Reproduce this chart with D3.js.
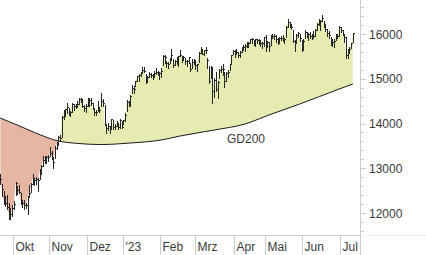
<!DOCTYPE html>
<html>
<head>
<meta charset="utf-8">
<script src="https://cdn.jsdelivr.net/npm/d3@7"></script>
<style>
  html, body { margin: 0; padding: 0; background: #fff; }
  svg { display: block; font-family: "Liberation Sans", Arial, sans-serif; }
</style>
</head>
<body>
<svg id="chart"></svg>
<script>
// daily closes, Sep 21 2022 .. Jul 12 2023 (one row per month)
const closes = [
  12767, 12531, 12284, 12228, 12139, 11975, 11976, 12114,
  12209, 12670, 12517, 12471, 12273, 12220, 12180, 12172, 12355, 12438, 12649, 12765, 12741, 12767, 12731, 12931, 13053, 13195, 13211, 13243, 13253,
  13339, 13256, 13130, 13459, 13533, 13688, 13666, 14146, 14224, 14313, 14378, 14234, 14266, 14431, 14380, 14422, 14428, 14539, 14541, 14383, 14355, 14397,
  14490, 14529, 14448, 14343, 14261, 14264, 14370, 14306, 14497, 14460, 13987, 13893, 13943, 13885, 14098, 13914, 13941, 13995, 13926, 14071, 13924,
  14069, 14181, 14490, 14436, 14610, 14792, 14775, 14948, 15058, 15086, 15134, 15187, 15181, 14920, 15033, 15103, 15093, 15081, 15132, 15150, 15126, 15128,
  15180, 15509, 15476, 15345, 15320, 15412, 15523, 15307, 15397, 15380, 15506, 15534, 15482, 15477, 15398, 15400, 15476, 15210, 15381, 15365,
  15305, 15327, 15578, 15654, 15559, 15632, 15633, 15428, 14959, 15233, 14735, 14967, 14768, 14933, 15195, 15216, 15210, 14957, 15128, 15142, 15329, 15522, 15629,
  15581, 15603, 15520, 15597, 15655, 15703, 15729, 15808, 15790, 15882, 15896, 15796, 15882, 15864, 15872, 15795, 15800, 15922,
  15727, 15815, 15734, 15961, 15952, 15955, 15897, 15834, 15914, 15917, 15897, 15898, 16164, 16275, 16223, 16152, 15842, 15794, 15983, 16014, 15908, 15664,
  15853, 16051, 15964, 15993, 15960, 15989, 15950, 16098, 16230, 16311, 16290, 16358, 16202, 16111, 16023, 15988, 15830, 15813, 15846, 15949, 15946, 16148,
  16081, 15989, 15938, 15529, 15603, 15673, 15790, 16023,
];

const highs = [
  12880, 12650, 12500, 12370, 12400, 12220, 12110, 12180,
  12260, 12690, 12600, 12620, 12450, 12300, 12280, 12230, 12390, 12620, 12680, 12870, 12790, 12810, 12790, 12990, 13080, 13280, 13270, 13270, 13300,
  13480, 13380, 13230, 13490, 13580, 13710, 13740, 14160, 14300, 14330, 14450, 14350, 14290, 14460, 14430, 14440, 14500, 14560, 14560, 14540, 14420, 14440,
  14580, 14560, 14560, 14460, 14330, 14300, 14500, 14370, 14675, 14540, 14420, 14000, 14010, 13950, 14110, 14080, 13990, 14050, 14020, 14090, 14050,
  14080, 14230, 14520, 14500, 14630, 14860, 14830, 14960, 15070, 15100, 15150, 15270, 15270, 15100, 15060, 15140, 15130, 15110, 15170, 15230, 15180, 15160,
  15240, 15530, 15540, 15390, 15370, 15470, 15660, 15440, 15410, 15480, 15510, 15650, 15500, 15510, 15470, 15420, 15490, 15350, 15440, 15450,
  15420, 15340, 15590, 15700, 15670, 15650, 15700, 15470, 15290, 15290, 15260, 15010, 15150, 14950, 15210, 15280, 15330, 15150, 15150, 15200, 15340, 15530, 15650,
  15640, 15660, 15600, 15630, 15700, 15760, 15780, 15830, 15830, 15890, 15900, 15870, 15890, 15890, 15880, 15840, 15830, 15930,
  15980, 15850, 15830, 15980, 15990, 15990, 15970, 15920, 15940, 15960, 15980, 15920, 16170, 16330, 16270, 16230, 16090, 15860, 16000, 16040, 16000, 15870,
  15890, 16080, 16040, 16020, 16050, 16000, 16070, 16110, 16250, 16330, 16320, 16430, 16280, 16230, 16120, 16060, 15940, 15880, 15880, 16010, 16000, 16170,
  16160, 16080, 15990, 15940, 15660, 15700, 15800, 16030,
];

const lows = [
  12640, 12370, 12200, 12160, 12100, 11862, 11870, 11930,
  12080, 12400, 12430, 12440, 12200, 12140, 12090, 12110, 11980, 12380, 12480, 12650, 12620, 12640, 12500, 12760, 12870, 13050, 13120, 13120, 13160,
  13270, 13200, 13000, 13240, 13420, 13520, 13600, 13700, 14100, 14160, 14230, 14190, 14160, 14250, 14300, 14340, 14360, 14440, 14470, 14370, 14290, 14260,
  14390, 14400, 14410, 14330, 14200, 14180, 14290, 14260, 14400, 14400, 13960, 13790, 13850, 13790, 13910, 13880, 13880, 13940, 13870, 13910, 13900,
  13990, 14060, 14280, 14380, 14380, 14680, 14680, 14840, 14950, 14950, 15060, 15120, 15140, 14900, 14930, 15030, 15030, 15000, 15030, 15110, 15080, 15000,
  15040, 15300, 15350, 15260, 15230, 15360, 15450, 15270, 15300, 15320, 15280, 15500, 15380, 15420, 15320, 15280, 15350, 15180, 15250, 15330,
  15220, 15170, 15380, 15580, 15550, 15520, 15580, 15230, 14900, 15010, 14460, 14600, 14720, 14580, 15020, 15150, 15080, 14810, 14960, 15040, 15200, 15350, 15550,
  15480, 15560, 15480, 15480, 15590, 15640, 15630, 15700, 15720, 15790, 15790, 15750, 15730, 15810, 15780, 15740, 15690, 15740,
  15630, 15700, 15630, 15750, 15900, 15880, 15820, 15780, 15810, 15860, 15840, 15800, 15930, 16160, 16160, 16120, 15820, 15630, 15810, 15930, 15850, 15630,
  15640, 15900, 15940, 15860, 15900, 15880, 15920, 15950, 16090, 16200, 16080, 16300, 16160, 16070, 15960, 15920, 15760, 15740, 15720, 15870, 15900, 15950,
  16040, 15980, 15830, 15460, 15460, 15580, 15680, 15830,
];

// GD200 at a few trading-day positions
const maDays = [0, 10, 20, 34, 45, 59, 76, 94, 105, 125, 143, 157, 175, 198, 206];
const maValues = [14123, 13966, 13800, 13609, 13555, 13530, 13564, 13631, 13720, 13854, 13989, 14190, 14436, 14771, 14883];

const monthLabels = ["Okt", "Nov", "Dez", "'23", "Feb", "Mrz", "Apr", "Mai", "Jun", "Jul"];
const monthStarts = [8, 29, 51, 72, 94, 114, 137, 155, 177, 199];

const yTicks = [12000, 13000, 14000, 15000, 16000];

const size = { width: 426, height: 255 };
const plot = { right: 360, bottom: 235 };

const color = {
  above: "#e6ebb1",
  below: "#e7b6a3",
  bar: "#262626",
  axis: "#cccccc",
  text: "#3a3a3a",
};

const svg = d3.select("#chart").attr("width", size.width).attr("height", size.height);

const x = d3.scaleLinear().domain([0, closes.length - 1]).range([0.2, 0.2 + (closes.length - 1) * 1.712]);
const y = d3.scaleLinear().domain([12000, 16000]).range([213, 34]);

const days = d3.range(closes.length);
const ma = maDays.map((d, i) => ({ d, v: maValues[i] }));

// clip regions around the close line
const defs = svg.append("defs");
defs.append("clipPath").attr("id", "belowClose")
  .append("path")
  .attr("d", d3.area().x((d) => x(d)).y0(plot.bottom).y1((d) => y(closes[d]))(days));
defs.append("clipPath").attr("id", "aboveClose")
  .append("path")
  .attr("d", d3.area().x((d) => x(d)).y0(0).y1((d) => y(closes[d]))(days));

const maArea = (edge) =>
  d3.area().curve(d3.curveMonotoneX).x((d) => x(d.d)).y0(edge).y1((d) => y(d.v));

svg.append("path")
  .attr("d", maArea(0)(ma))
  .attr("fill", color.above)
  .attr("clip-path", "url(#belowClose)");

svg.append("path")
  .attr("d", maArea(plot.bottom)(ma))
  .attr("fill", color.below)
  .attr("clip-path", "url(#aboveClose)");

// GD200 line
svg.append("path")
  .attr("d", d3.line().curve(d3.curveMonotoneX).x((d) => x(d.d)).y((d) => y(d.v))(ma))
  .attr("fill", "none")
  .attr("stroke", "#1a1a1a")
  .attr("stroke-width", 1);

svg.append("text")
  .text("GD200")
  .attr("x", 227)
  .attr("y", 142.5)
  .attr("fill", color.text)
  .style("font-size", "12px");

// bars
const bars = svg.append("g").attr("stroke", color.bar).attr("shape-rendering", "crispEdges");
days.forEach((d) => {
  const px = Math.round(x(d)) + 0.5;
  bars.append("line")
    .attr("x1", px).attr("x2", px)
    .attr("y1", y(highs[d])).attr("y2", y(lows[d]) + 1);
  bars.append("line")
    .attr("x1", px).attr("x2", px + 1.5)
    .attr("y1", Math.round(y(closes[d])) + 0.5).attr("y2", Math.round(y(closes[d])) + 0.5);
});

// axes
const axes = svg.append("g").attr("stroke", color.axis).attr("shape-rendering", "crispEdges");
axes.append("line").attr("x1", 0).attr("x2", plot.right).attr("y1", plot.bottom + 0.5).attr("y2", plot.bottom + 0.5);
axes.append("line").attr("x1", plot.right).attr("x2", size.width).attr("y1", plot.bottom + 0.5).attr("y2", plot.bottom + 0.5).attr("stroke", "#f0f0f0");
axes.append("line").attr("x1", plot.right + 0.5).attr("x2", plot.right + 0.5).attr("y1", 0).attr("y2", size.height);

d3.range(11600, 16800, 200).forEach((v) => {
  const major = v % 1000 === 0;
  const py = Math.round(y(v)) + 0.5;
  axes.append("line")
    .attr("x1", plot.right).attr("x2", plot.right + (major ? 6 : 4))
    .attr("y1", py).attr("y2", py);
});

svg.append("g")
  .selectAll("text")
  .data(yTicks)
  .join("text")
  .text((d) => d)
  .attr("x", 369)
  .attr("y", (d) => y(d) + 4.5)
  .attr("fill", color.text)
  .style("font-size", "12px");

monthStarts.forEach((d, i) => {
  const px = Math.round(x(d) - 0.856) + 0.5;
  axes.append("line").attr("x1", px).attr("x2", px).attr("y1", plot.bottom).attr("y2", size.height);
  svg.append("text")
    .text(monthLabels[i])
    .attr("x", px + 2)
    .attr("y", 251)
    .attr("fill", color.text)
    .style("font-size", "12px");
});
</script>
</body>
</html>
